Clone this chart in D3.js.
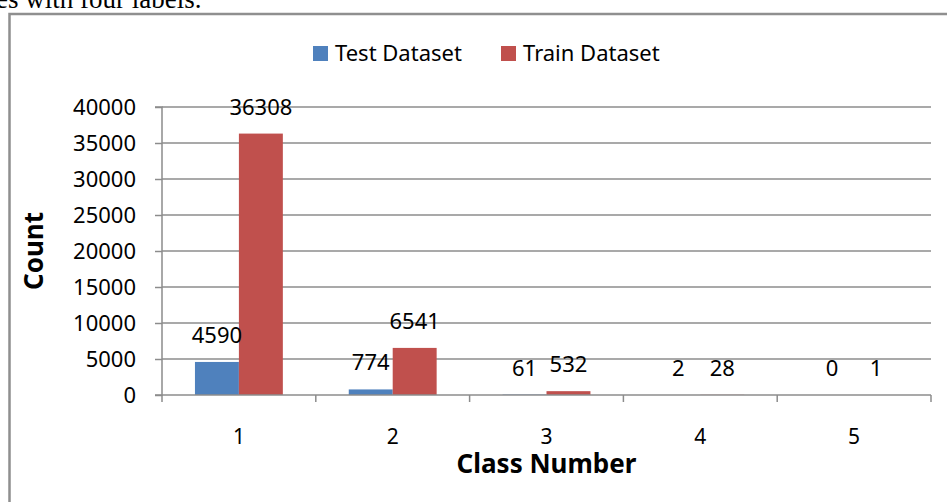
<!DOCTYPE html>
<html>
<head>
<meta charset="utf-8">
<script src="https://cdn.jsdelivr.net/npm/d3@7"></script>
<style>
  body { margin: 0; background: #fff; }
  text { font-family: "Noto Sans", sans-serif; fill: #000; }
</style>
</head>
<body>
<div id="chart"></div>
<script>
// Data
const classes = ["1", "2", "3", "4", "5"];
const seriesNames = ["Test Dataset", "Train Dataset"];
const testCounts = [4590, 774, 61, 2, 0];
const trainCounts = [36308, 6541, 532, 28, 1];
const yTicks = [0, 5000, 10000, 15000, 20000, 25000, 30000, 35000, 40000];
const colors = ["#4F81BD", "#C0504D"];

const W = 947, H = 502;
const plot = {left: 162, right: 931, top: 107, bottom: 395};

const svg = d3.select("#chart")
    .append("svg")
    .attr("width", W)
    .attr("height", H);

// cut-off caption line from the page above the figure
svg.append("text")
    .attr("x", -4)
    .attr("y", 8)
    .style("font-family", "'Liberation Serif', serif")
    .style("font-size", "27px")
    .text("es with four labels.");

// chart frame
svg.append("rect")
    .attr("x", 9.5)
    .attr("y", 14)
    .attr("width", 960)
    .attr("height", 520)
    .attr("fill", "none")
    .attr("stroke", "#8f8f8f")
    .attr("stroke-width", 2.5);

// scales
const x = d3.scaleBand()
    .domain(classes)
    .range([plot.left, plot.right]);

const xInner = d3.scaleBand()
    .domain(seriesNames)
    .range([0, x.bandwidth()])
    .paddingOuter(0.75);

const y = d3.scaleLinear()
    .domain([0, 40000])
    .range([plot.bottom, plot.top]);

// gridlines
svg.append("g")
    .selectAll("line")
    .data(yTicks.filter(d => d > 0))
    .join("line")
    .attr("x1", plot.left)
    .attr("x2", plot.right)
    .attr("y1", d => y(d))
    .attr("y2", d => y(d))
    .attr("stroke", "#8c8c8c")
    .attr("stroke-width", 1.5);

// Y axis
const yAxis = svg.append("g")
    .attr("transform", `translate(${plot.left},0)`)
    .call(d3.axisLeft(y).tickValues(yTicks).tickSize(7).tickPadding(19).tickFormat(d3.format("d")));
yAxis.selectAll("path, line").attr("stroke", "#8c8c8c").attr("stroke-width", 1.5);
yAxis.select(".domain").attr("d", `M-7,${plot.top}H0V${plot.bottom}H-7`);
yAxis.selectAll("text")
    .style("font-family", "'Noto Sans', sans-serif")
    .style("font-size", "22px")
    .attr("dy", "0.36em");

// bars
const rows = classes.map((c, i) => ({cls: c, values: [testCounts[i], trainCounts[i]]}));

const groups = svg.append("g")
    .selectAll("g")
    .data(rows)
    .join("g")
    .attr("transform", d => `translate(${x(d.cls)},0)`);

groups.selectAll("rect")
    .data(d => d.values.map((v, j) => ({name: seriesNames[j], v: v, j: j})))
    .join("rect")
    .attr("x", d => xInner(d.name))
    .attr("width", xInner.bandwidth())
    .attr("y", d => y(d.v))
    .attr("height", d => y(0) - y(d.v))
    .attr("fill", d => colors[d.j]);

// value labels
groups.selectAll("text")
    .data(d => d.values.map((v, j) => ({name: seriesNames[j], v: v, j: j})))
    .join("text")
    .attr("x", d => xInner(d.name) + xInner.bandwidth() / 2)
    .attr("y", d => y(d.v) - 19)
    .attr("text-anchor", "middle")
    .style("font-size", "22px")
    .text(d => d.v);

// X axis line and boundary ticks
svg.append("line")
    .attr("x1", plot.left)
    .attr("x2", plot.right)
    .attr("y1", plot.bottom)
    .attr("y2", plot.bottom)
    .attr("stroke", "#8c8c8c")
    .attr("stroke-width", 1.5);

const bounds = classes.map(c => x(c)).concat([plot.right]);
svg.append("g")
    .selectAll("line")
    .data(bounds)
    .join("line")
    .attr("x1", d => d)
    .attr("x2", d => d)
    .attr("y1", plot.bottom)
    .attr("y2", plot.bottom + 7)
    .attr("stroke", "#8c8c8c")
    .attr("stroke-width", 1.5);

// category labels
svg.append("g")
    .selectAll("text")
    .data(classes)
    .join("text")
    .attr("x", d => x(d) + x.bandwidth() / 2)
    .attr("y", 444)
    .attr("text-anchor", "middle")
    .style("font-size", "21px")
    .text(d => d);

// axis titles
svg.append("text")
    .attr("x", (plot.left + plot.right) / 2)
    .attr("y", 473)
    .attr("text-anchor", "middle")
    .style("font-size", "26px")
    .style("font-weight", "bold")
    .text("Class Number");

svg.append("text")
    .attr("transform", `translate(43,${(plot.top + plot.bottom) / 2}) rotate(-90)`)
    .attr("text-anchor", "middle")
    .style("font-size", "26px")
    .style("font-weight", "bold")
    .text("Count");

// legend
const legend = svg.append("g")
    .selectAll("g")
    .data(seriesNames)
    .join("g")
    .attr("transform", (d, i) => `translate(${[313, 501][i]},46)`);

legend.append("rect")
    .attr("width", 15)
    .attr("height", 15)
    .attr("fill", (d, i) => colors[i]);

legend.append("text")
    .attr("x", 22)
    .attr("y", 15)
    .style("font-size", "22px")
    .text(d => d);
</script>
</body>
</html>
